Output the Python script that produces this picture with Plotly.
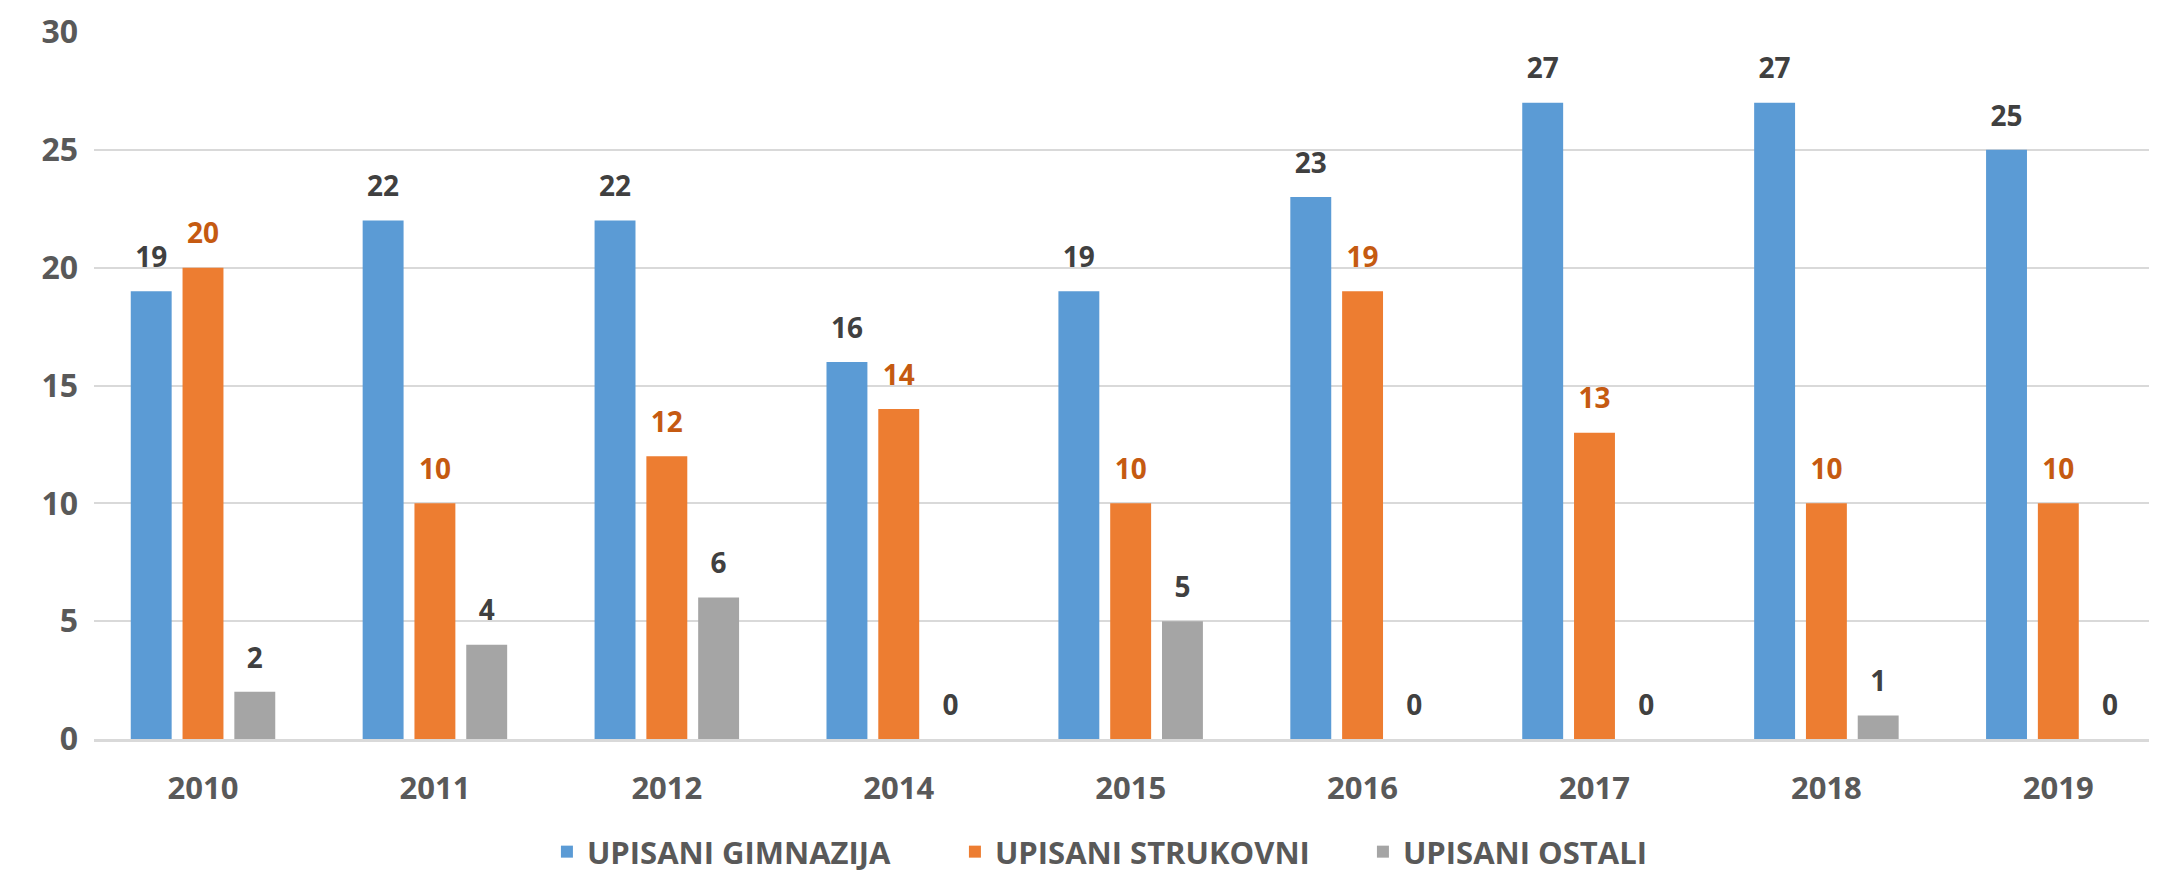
import plotly.graph_objects as go

# ── Data ──────────────────────────────────────────────────────────────────────
years = ["2010", "2011", "2012", "2014", "2015", "2016", "2017", "2018", "2019"]
gimnazija = [19, 22, 22, 16, 19, 23, 27, 27, 25]
strukovni = [20, 10, 12, 14, 10, 19, 13, 10, 10]
ostali = [2, 4, 6, 0, 5, 0, 0, 1, 0]
y_ticks = [0, 5, 10, 15, 20, 25, 30]

FONT = "'Open Sans', sans-serif"
TICK_COLOR = "#595959"
GRID = "#D9D9D9"
BARGAP = 0.33

series = [
    ("UPISANI GIMNAZIJA", gimnazija, "#5B9BD5", "#404040"),
    ("UPISANI STRUKOVNI", strukovni, "#ED7D31", "#C55A11"),
    ("UPISANI OSTALI", ostali, "#A5A5A5", "#404040"),
]

fig = go.Figure()
for name, vals, color, label_color in series:
    fig.add_trace(go.Bar(
        x=years, y=vals, name=name,
        marker=dict(color=color, line=dict(width=0)),
        hoverinfo="x+y",
    ))

# value labels as grouped text-only scatter, so they sit a bit higher than bar text
for name, vals, color, label_color in series:
    fig.add_trace(go.Scatter(
        x=years, y=vals, mode="markers+text", showlegend=False,
        text=vals, textposition="top center", cliponaxis=False,
        marker=dict(size=26, color="rgba(0,0,0,0)"),
        textfont=dict(family=FONT, size=28, color=label_color, weight="bold"),
        hoverinfo="skip",
    ))

fig.update_layout(
    width=2157, height=871,
    paper_bgcolor="#FFFFFF", plot_bgcolor="#FFFFFF",
    margin=dict(l=86, r=0, t=24, b=133),
    barmode="group", bargap=BARGAP, bargroupgap=0.21,
    scattermode="group", scattergap=BARGAP,
    font=dict(family=FONT, color=TICK_COLOR),
    showlegend=True,
    legend=dict(
        orientation="h", x=0.2187, xanchor="left", y=-0.16, yanchor="middle",
        font=dict(family=FONT, size=31, color=TICK_COLOR, weight="bold"),
        itemwidth=30, traceorder="normal",
        entrywidth=363, entrywidthmode="pixels",
    ),
    xaxis=dict(
        type="category", range=[-0.47, 8.46],
        showline=True, linecolor=GRID, linewidth=3,
        showgrid=False, ticks="", ticklabelstandoff=20,
        tickfont=dict(family=FONT, size=31, color=TICK_COLOR, weight="bold"),
    ),
    yaxis=dict(
        range=[0, 30], tickvals=y_ticks,
        showgrid=True, gridcolor=GRID, gridwidth=2,
        zeroline=False, showline=False, ticks="",
        ticklabelstandoff=15,
        tickfont=dict(family=FONT, size=32, color=TICK_COLOR, weight="bold"),
    ),
)

fig.write_html("out.html")
